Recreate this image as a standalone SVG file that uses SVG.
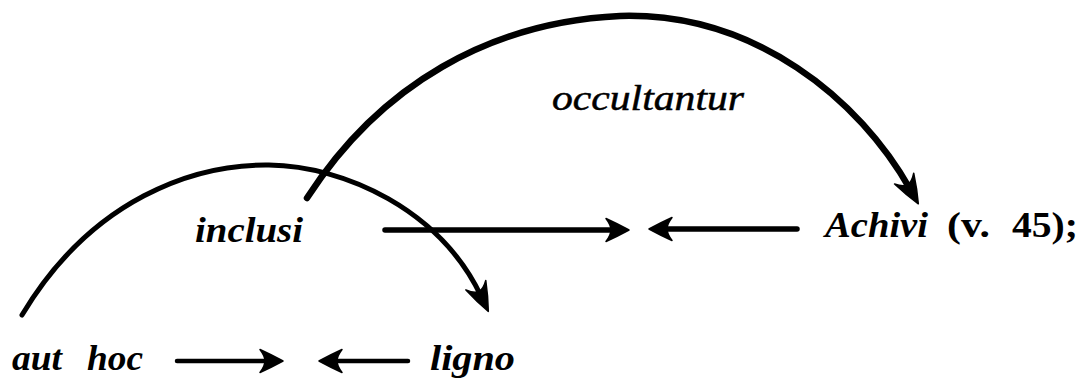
<svg xmlns="http://www.w3.org/2000/svg" width="1082" height="380" viewBox="0 0 1082 380">
<style>
.w{font-family:"Liberation Serif","Times New Roman",serif;font-style:italic;font-weight:bold;font-size:36px;fill:#000}
.wl{font-family:"Liberation Serif","Times New Roman",serif;font-style:italic;font-size:35px;fill:#000;stroke:#000;stroke-width:0.5}
.up{font-style:normal}
.c{fill:none;stroke:#000;stroke-linecap:round}
</style>
<defs>
<marker id="barb" markerUnits="userSpaceOnUse" viewBox="-30 -15 40 30" refX="-12" refY="0" markerWidth="40" markerHeight="30" orient="auto" overflow="visible">
<path d="M1,0 Q-10,-6 -22,-11.5 Q-17,-5 -17,0 Q-17,5 -22,11.5 Q-10,6 1,0 Z" fill="#000" stroke="#000" stroke-width="1.5" stroke-linejoin="round"/>
</marker>
<marker id="barbL" markerUnits="userSpaceOnUse" viewBox="-35 -15 45 30" refX="-16" refY="0" markerWidth="45" markerHeight="30" orient="auto" overflow="visible">
<path d="M1,0 Q-12,-6 -28,-11 Q-21,-5 -21,0 Q-21,5 -28,11 Q-12,6 1,0 Z" fill="#000" stroke="#000" stroke-width="1.5" stroke-linejoin="round"/>
</marker>
</defs>
<rect width="1082" height="380" fill="#fff"/>
<g id="connectors">
<path class="c" stroke-width="5" d="M22,315 C92,198 195,164 269,165 C345,166 440,210 481,296" marker-end="url(#barbL)"/>
<path class="c" stroke-width="6.5" d="M307,198 C380,85 490,22 620,16 C755,12 860,100 910,189" marker-end="url(#barbL)"/>
<path class="c" stroke-width="5.5" d="M385,230 L616,230" marker-end="url(#barb)"/>
<path class="c" stroke-width="5.5" d="M797,229 L662,229" marker-end="url(#barb)"/>
<path class="c" stroke-width="4.5" d="M177,361 L270,361" marker-end="url(#barb)"/>
<path class="c" stroke-width="4.5" d="M408,361 L332,361" marker-end="url(#barb)"/>
</g>
<g id="occultantur"><text class="wl" x="552" y="110" textLength="192" lengthAdjust="spacingAndGlyphs">occultantur</text></g>
<g id="inclusi"><text class="w" x="195" y="242" textLength="108" lengthAdjust="spacingAndGlyphs">inclusi</text></g>
<g id="achivi"><text class="w" y="237"><tspan x="825" textLength="103" lengthAdjust="spacingAndGlyphs">Achivi</tspan> <tspan class="up" x="947" textLength="43" lengthAdjust="spacingAndGlyphs">(v.</tspan> <tspan class="up" x="1012" textLength="66" lengthAdjust="spacingAndGlyphs">45);</tspan></text></g>
<g id="authoc"><text class="w" y="370"><tspan x="12" textLength="50" lengthAdjust="spacingAndGlyphs">aut</tspan> <tspan x="87" textLength="56" lengthAdjust="spacingAndGlyphs">hoc</tspan></text></g>
<g id="ligno"><text class="w" x="430" y="370" textLength="85" lengthAdjust="spacingAndGlyphs">ligno</text></g>
</svg>
